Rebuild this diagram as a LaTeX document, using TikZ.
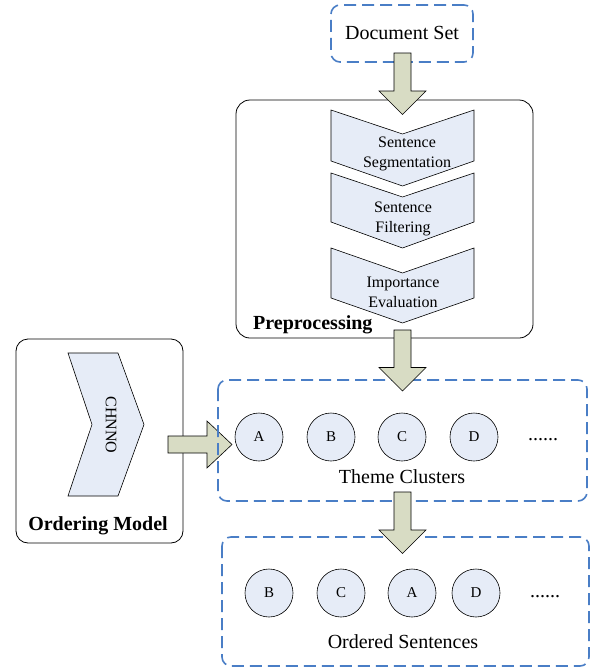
\documentclass[tikz,border=0pt]{standalone}
\usepackage{fontspec}
\setmainfont{Liberation Serif}
\definecolor{palefill}{HTML}{E6ECF7}
\definecolor{olivefill}{HTML}{D8DCC4}
\definecolor{dashblue}{HTML}{4A7EC6}
\tikzset{
  dashbox/.style={draw=dashblue, line width=1.6pt, dash pattern=on 12pt off 6pt, rounded corners=9pt},
  framebox/.style={draw=black, line width=0.8pt, rounded corners=14pt},
  paleshape/.style={draw=black, fill=palefill, line width=0.6pt},
  blockarrow/.style={draw=black, fill=olivefill, line width=0.6pt},
  stagetext/.style={align=center, font=\fontsize{16}{20}\selectfont, inner sep=0pt},
  bigtext/.style={font=\fontsize{20}{24}\selectfont, inner sep=0pt},
  boldtext/.style={font=\fontsize{20}{24}\selectfont\bfseries, inner sep=0pt},
  cluster/.style={circle, draw=black, fill=palefill, line width=0.6pt, minimum size=48pt, inner sep=0pt, font=\fontsize{15}{18}\selectfont},
  dots/.style={font=\fontsize{20}{24}\selectfont, inner sep=0pt, anchor=base},
  % vertical block arrow: #1 = shaft length, starting at the pic origin
  downarrow/.pic={
    \filldraw[blockarrow] (-8.5,0) -- (-8.5,#1) -- (-23.5,#1) -- (0,{#1+23.5})
      -- (23.5,#1) -- (8.5,#1) -- (8.5,0) -- cycle;
  },
  rightarrow/.pic={
    \filldraw[blockarrow] (0,-8.5) -- (#1,-8.5) -- (#1,-23.5) -- ({#1+25},0)
      -- (#1,23.5) -- (#1,8.5) -- (0,8.5) -- cycle;
  }
}
\begin{document}
\begin{tikzpicture}[x=1pt, y=-1pt]
  \useasboundingbox (0,0) rectangle (595,670);

  % input documents
  \node[dashbox, minimum width=142pt, minimum height=57pt, bigtext] (docs) at (402,33.5) {};
  \node[bigtext] (docslabel) at (402,33) {Document Set};

  % preprocessing frame and its three stages
  \draw[framebox] (236,100) rectangle (533,338);
  \node[boldtext, anchor=west] (prep) at (253,325) {Preprocessing};

  \filldraw[paleshape] (331,110) -- (402.5,134) -- (474,110) -- (474,161)
    -- (402.5,186) -- (331,161) -- cycle;
  \node[stagetext] (seg) at (407,153.5) {Sentence\\Segmentation};

  \filldraw[paleshape] (331,173) -- (402.5,197) -- (474,173) -- (474,222)
    -- (402.5,248) -- (331,222) -- cycle;
  \node[stagetext] (filt) at (403,218.5) {Sentence\\Filtering};

  \filldraw[paleshape] (331,248) -- (402.5,273) -- (474,248) -- (474,298)
    -- (402.5,323) -- (331,298) -- cycle;
  \node[stagetext] (eval) at (403,292) {Importance\\Evaluation};

  \pic at (402.5,53) {downarrow={38}};

  % ordering model
  \draw[framebox, rounded corners=12pt] (16,339) rectangle (183,543);
  \filldraw[paleshape] (68,353) -- (118,353) -- (144,424.5) -- (118,496)
    -- (68,496) -- (92,424.5) -- cycle;
  \node[stagetext, rotate=-90] (chnno) at (111,425) {CHNNO};
  \node[boldtext] (ordering) at (98,526) {Ordering Model};

  \pic at (168,444.5) {rightarrow={39}};

  % theme clusters
  \draw[dashbox] (218,380) rectangle (587,501);
  \node[cluster] (tA) at (259,437) {A};
  \node[cluster] (tB) at (331,437) {B};
  \node[cluster] (tC) at (402,437) {C};
  \node[cluster] (tD) at (474,437) {D};
  \node[dots] (tdots) at (543,440) {......};
  \node[bigtext] (theme) at (402,477) {Theme Clusters};

  \pic at (402.5,330) {downarrow={37.5}};

  % ordered sentences
  \draw[dashbox] (222,537) rectangle (589,666);
  \node[cluster] (oB) at (269,593) {B};
  \node[cluster] (oC) at (341,593) {C};
  \node[cluster] (oA) at (412,593) {A};
  \node[cluster] (oD) at (476,593) {D};
  \node[dots] (odots) at (545,597) {......};
  \node[bigtext] (ordered) at (403,642) {Ordered Sentences};

  \pic at (402.5,492) {downarrow={38}};
\end{tikzpicture}
\end{document}
